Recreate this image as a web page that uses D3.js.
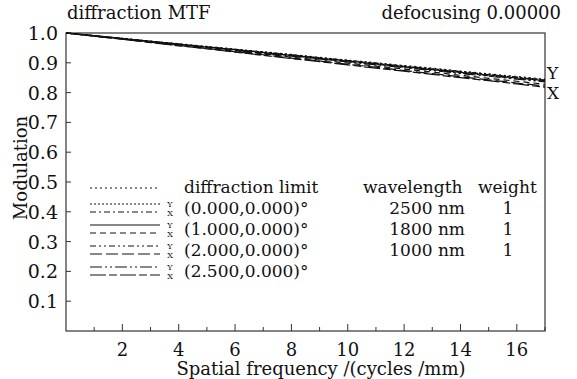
<!DOCTYPE html>
<html>
<head>
<meta charset="utf-8">
<script src="https://cdn.jsdelivr.net/npm/d3@7"></script>
<style>
  body { margin: 0; background: #fff; }
  text { font-family: "DejaVu Serif", serif; fill: #111; }
</style>
</head>
<body>
<div id="chart"></div>
<script>
let W = 577
let H = 379

// spatial frequency samples (cycles/mm)
let freqs = [0, 1, 2, 3, 4, 5, 6, 7, 8, 9, 10, 11, 12, 13, 14, 15, 16, 17]
let diffLimit = [1.000, 0.991, 0.982, 0.973, 0.964, 0.955, 0.946, 0.937, 0.928, 0.918, 0.909, 0.900, 0.891, 0.882, 0.872, 0.863, 0.854, 0.845]
let f0Y  = [1.000, 0.991, 0.982, 0.972, 0.963, 0.954, 0.945, 0.936, 0.927, 0.917, 0.908, 0.899, 0.889, 0.880, 0.871, 0.861, 0.852, 0.843]
let f0X  = [1.000, 0.991, 0.981, 0.972, 0.963, 0.953, 0.944, 0.935, 0.926, 0.916, 0.907, 0.898, 0.888, 0.879, 0.870, 0.860, 0.851, 0.842]
let f1Y  = [1.000, 0.991, 0.981, 0.972, 0.962, 0.953, 0.944, 0.934, 0.925, 0.915, 0.906, 0.896, 0.887, 0.877, 0.868, 0.859, 0.849, 0.840]
let f1X  = [1.000, 0.990, 0.980, 0.970, 0.960, 0.950, 0.940, 0.930, 0.919, 0.909, 0.899, 0.889, 0.879, 0.869, 0.858, 0.848, 0.838, 0.828]
let f2Y  = [1.000, 0.990, 0.981, 0.971, 0.962, 0.952, 0.943, 0.933, 0.924, 0.914, 0.904, 0.895, 0.885, 0.876, 0.866, 0.857, 0.847, 0.838]
let f2X  = [1.000, 0.990, 0.979, 0.969, 0.958, 0.948, 0.937, 0.927, 0.916, 0.906, 0.895, 0.885, 0.874, 0.864, 0.853, 0.843, 0.832, 0.822]
let f25Y = [1.000, 0.990, 0.981, 0.971, 0.961, 0.952, 0.942, 0.932, 0.922, 0.913, 0.903, 0.893, 0.884, 0.874, 0.864, 0.855, 0.845, 0.836]
let f25X = [1.000, 0.989, 0.979, 0.968, 0.957, 0.947, 0.936, 0.925, 0.914, 0.904, 0.893, 0.882, 0.872, 0.861, 0.850, 0.840, 0.829, 0.818]

let fieldLabels = ["(0.000,0.000)°", "(1.000,0.000)°", "(2.000,0.000)°", "(2.500,0.000)°"]
let wavelengths = ["2500 nm", "1800 nm", "1000 nm"]
let weights = ["1", "1", "1"]
let xTicks = [2, 4, 6, 8, 10, 12, 14, 16]
let xMinor = [1, 3, 5, 7, 9, 11, 13, 15, 17]
let yTicks = [0.1, 0.2, 0.3, 0.4, 0.5, 0.6, 0.7, 0.8, 0.9, 1.0]

// curves: data + dash style
let curves = [
  { v: diffLimit, dash: "2,3" },
  { v: f0Y, dash: "2,2" },
  { v: f0X, dash: "6,3,2,3" },
  { v: f1Y, dash: null },
  { v: f1X, dash: "6,4" },
  { v: f2Y, dash: "6,3,2,3,2,3" },
  { v: f2X, dash: "12,4" },
  { v: f25Y, dash: "12,3,2,3,2,3" },
  { v: f25X, dash: "16,3,8,3" }
]

let svg = d3.select("#chart").append("svg")
  .attr("width", W).attr("height", H)

let x = d3.scaleLinear().domain([0, 17]).range([66, 545])
let y = d3.scaleLinear().domain([0, 1]).range([331, 33])

// frame
svg.append("rect")
  .attr("x", x(0)).attr("y", y(1))
  .attr("width", x(17) - x(0)).attr("height", y(0) - y(1))
  .attr("fill", "none").attr("stroke", "#333").attr("stroke-width", 1.2)

// x ticks (inward)
svg.append("g").selectAll("line").data(xTicks).join("line")
  .attr("x1", d => x(d)).attr("x2", d => x(d))
  .attr("y1", y(0)).attr("y2", y(0) - 7)
  .attr("stroke", "#333")
svg.append("g").selectAll("line").data(xMinor).join("line")
  .attr("x1", d => x(d)).attr("x2", d => x(d))
  .attr("y1", y(0)).attr("y2", y(0) - 4)
  .attr("stroke", "#333")
svg.append("g").selectAll("text").data(xTicks).join("text")
  .attr("x", d => x(d)).attr("y", 356)
  .attr("text-anchor", "middle").style("font-size", "18px")
  .text(d => d)

// y ticks
svg.append("g").selectAll("line").data(yTicks).join("line")
  .attr("x1", x(0)).attr("x2", x(0) + 5)
  .attr("y1", d => y(d)).attr("y2", d => y(d))
  .attr("stroke", "#333")
svg.append("g").selectAll("text").data(yTicks).join("text")
  .attr("x", 58).attr("y", d => y(d) + 7)
  .attr("text-anchor", "end").style("font-size", "19px")
  .text(d => d3.format(".1f")(d))

// axis titles
svg.append("text").attr("x", 321).attr("y", 375)
  .attr("text-anchor", "middle").style("font-size", "18px")
  .text("Spatial frequency /(cycles /mm)")
svg.append("text")
  .attr("transform", "translate(27,168) rotate(-90)")
  .attr("text-anchor", "middle").style("font-size", "18px")
  .text("Modulation")

// titles
svg.append("text").attr("x", 67).attr("y", 19).style("font-size", "18px").text("diffraction MTF")
svg.append("text").attr("x", 561).attr("y", 19).attr("text-anchor", "end")
  .style("font-size", "18px").text("defocusing 0.00000")

// curves
let line = d3.line().x((d, i) => x(freqs[i])).y(d => y(d))
svg.append("g").selectAll("path").data(curves).join("path")
  .attr("d", d => line(d.v))
  .attr("fill", "none").attr("stroke", "#111").attr("stroke-width", 1.2)
  .attr("stroke-dasharray", d => d.dash)

// Y / X markers at right
svg.append("text").attr("x", 547).attr("y", 79).style("font-size", "17px").text("Y")
svg.append("text").attr("x", 547).attr("y", 99).style("font-size", "17px").text("X")

// legend, left
let lg = svg.append("g")
lg.append("line").attr("x1", 90).attr("x2", 160).attr("y1", 188).attr("y2", 188)
  .attr("stroke", "#111").attr("stroke-dasharray", curves[0].dash)
lg.append("text").attr("x", 184).attr("y", 193).style("font-size", "17px").text("diffraction limit")

let rowC = d3.scaleLinear().domain([0, 1]).range([208, 229])
fieldLabels.forEach(function (lab, i) {
  let c = rowC(i)
  lg.append("line").attr("x1", 90).attr("x2", 160).attr("y1", c - 4).attr("y2", c - 4)
    .attr("stroke", "#111").attr("stroke-dasharray", curves[1 + 2 * i].dash)
  lg.append("line").attr("x1", 90).attr("x2", 160).attr("y1", c + 4).attr("y2", c + 4)
    .attr("stroke", "#111").attr("stroke-dasharray", curves[2 + 2 * i].dash)
  lg.append("text").attr("x", 170).attr("y", c - 1).attr("text-anchor", "middle")
    .style("font-size", "8px").text("Y")
  lg.append("text").attr("x", 170).attr("y", c + 8).attr("text-anchor", "middle")
    .style("font-size", "8px").text("X")
  lg.append("text").attr("x", 184).attr("y", c + 6).style("font-size", "17px").text(lab)
})

// legend, right
let rg = svg.append("g")
rg.append("text").attr("x", 363).attr("y", 193).style("font-size", "17px").text("wavelength")
rg.append("text").attr("x", 478).attr("y", 193).style("font-size", "17px").text("weight")
wavelengths.forEach(function (w, i) {
  let c = rowC(i)
  rg.append("text").attr("x", 465).attr("y", c + 6).attr("text-anchor", "end")
    .style("font-size", "17px").text(w)
  rg.append("text").attr("x", 508).attr("y", c + 6).attr("text-anchor", "middle")
    .style("font-size", "17px").text(weights[i])
})
</script>
</body>
</html>
